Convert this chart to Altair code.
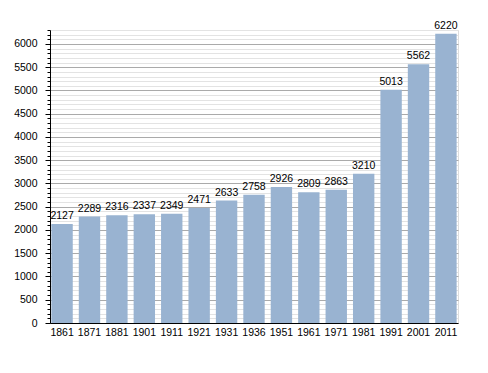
import altair as alt
import pandas as pd

years = ["1861", "1871", "1881", "1901", "1911", "1921", "1931", "1936",
         "1951", "1961", "1971", "1981", "1991", "2001", "2011"]
population = [2127, 2289, 2316, 2337, 2349, 2471, 2633, 2758,
              2926, 2809, 2863, 3210, 5013, 5562, 6220]
y_ticks = list(range(0, 6301, 100))

df = pd.DataFrame({"year": years, "pop": population})

FS = 10.5
x = alt.X("year:N", sort=years, title=None,
          scale=alt.Scale(paddingInner=0.22, paddingOuter=0.05),
          axis=alt.Axis(labelAngle=0, domainColor="#000000", domainWidth=1,
                        ticks=False, labelColor="#000000", labelFontSize=FS,
                        labelFont="Liberation Sans", labelPadding=4))
y = alt.Y("pop:Q", title=None,
          scale=alt.Scale(domain=[0, 6300], nice=False),
          axis=alt.Axis(values=y_ticks,
                        labelExpr="datum.value % 500 === 0 ? datum.label : ''",
                        format="d", labelOverlap=False,
                        labelColor="#000000", labelFontSize=FS,
                        labelFont="Liberation Sans",
                        domainColor="#000000", domainWidth=1,
                        tickColor="#000000",
                        tickSize={"condition": {"test": "datum.value % 500 === 0", "value": 5}, "value": 3},
                        gridColor={"condition": {"test": "datum.value % 500 === 0", "value": "#aaaaaa"}, "value": "#e3e3e3"},
                        gridWidth=1, labelPadding=8))

base = alt.Chart(df).encode(x=x, y=y)
bars = base.mark_bar(color="#99b3d1")
text = base.mark_text(dy=-8, fontSize=FS, font="Liberation Sans",
                      color="#000000").encode(text="pop:Q")

chart = alt.layer(bars, text).properties(
    width=408, height=293,
    autosize=alt.AutoSizeParams(type="none"),
    padding={"left": 42, "top": 22, "right": 22, "bottom": 42},
).configure_view(stroke=None).configure(background="#ffffff")

chart.save("out.html", embed_options={"renderer": "svg", "actions": False})
